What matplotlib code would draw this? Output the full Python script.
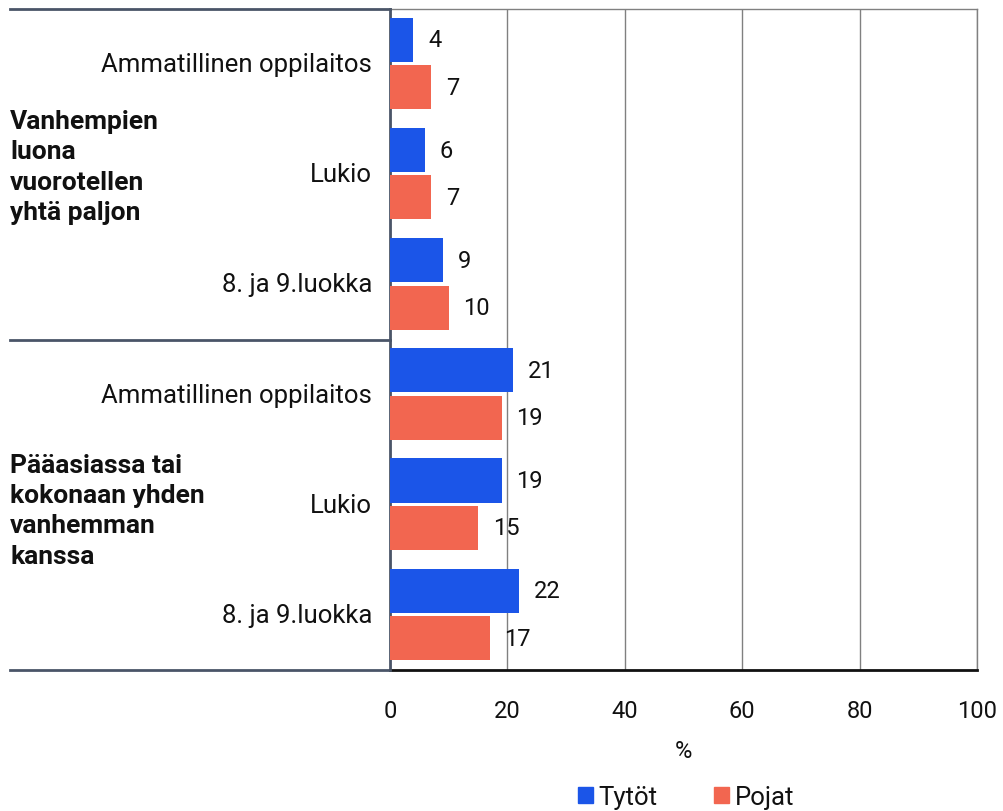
import matplotlib
matplotlib.use("Agg")
import matplotlib.pyplot as plt
import matplotlib.transforms as mtransforms
from matplotlib.patches import Patch
import numpy as np

plt.rcParams['font.family'] = ['Roboto', 'DejaVu Sans']

categories = ["Ammatillinen oppilaitos", "Lukio", "8. ja 9.luokka",
              "Ammatillinen oppilaitos", "Lukio", "8. ja 9.luokka"]
groups = ["Vanhempien\nluona\nvuorotellen\nyhtä paljon",
          "Pääasiassa tai\nkokonaan yhden\nvanhemman\nkanssa"]
tytot = [4, 6, 9, 21, 19, 22]
pojat = [7, 7, 10, 19, 15, 17]
xticks = [0, 20, 40, 60, 80, 100]
series_names = ["Tytöt", "Pojat"]

blue = "#1B55E8"
red = "#F26650"
slate = "#4A5568"
txt = "#111111"

fig = plt.figure(figsize=(10.04, 8.12), dpi=100)
ax = fig.add_axes([390/1004, 1 - 671/812, 587/1004, 661/812])

y = np.arange(len(categories))
h = 0.4
ax.barh(y - 0.22, tytot, height=h, color=blue, zorder=3)
ax.barh(y + 0.21, pojat, height=h, color=red, zorder=3)

for yi, v in zip(y, tytot):
    ax.text(v + 2.5, yi - 0.22, f"{v}", va="center", ha="left", fontsize=17, color=txt)
for yi, v in zip(y, pojat):
    ax.text(v + 2.5, yi + 0.21, f"{v}", va="center", ha="left", fontsize=17, color=txt)

ax.set_xlim(0, 100)
ax.set_ylim(len(categories) - 0.5, -0.5)
ax.set_xticks(xticks)
ax.set_xticklabels([str(t) for t in xticks], fontsize=17, color=txt)
ax.tick_params(axis="x", length=0, pad=21)
ax.set_yticks([])
ax.grid(axis="x", color="#808080", linewidth=1.0, zorder=0)
ax.set_axisbelow(True)

for s in ["top", "right"]:
    ax.spines[s].set_color("#808080")
    ax.spines[s].set_linewidth(1.0)
ax.spines["left"].set_color(slate)
ax.spines["left"].set_linewidth(2.0)
ax.spines["bottom"].set_color(txt)
ax.spines["bottom"].set_linewidth(2.0)

ax.set_xlabel("%", fontsize=17, labelpad=12, color=txt)

trans = mtransforms.blended_transform_factory(ax.transAxes, ax.transData)
x_left = (10 - 390) / 587
for yb in [-0.5, 2.5, 5.5]:
    ax.plot([x_left, 0], [yb, yb], transform=trans, color=slate, linewidth=2.0, clip_on=False, zorder=5)

for yi, cat in zip(y, categories):
    ax.text(-18/587, yi, cat, transform=trans, ha="right", va="center", fontsize=18.5, color=txt)

group_y = [0.93, 4.05]
for gy, g in zip(group_y, groups):
    ax.text(x_left, gy, g, transform=trans, ha="left", va="center", fontsize=19,
            fontweight="bold", color=txt, linespacing=1.33)

handles = [Patch(color=blue, label=series_names[0]), Patch(color=red, label=series_names[1])]
fig.legend(handles=handles, loc="center", bbox_to_anchor=(686/1004, 1 - 798/812), ncol=2,
           frameon=False, fontsize=18.5, handlelength=0.6, handleheight=0.6, handletextpad=0.2,
           columnspacing=2.2, labelcolor=txt)

fig.savefig("out.png", dpi=100)
